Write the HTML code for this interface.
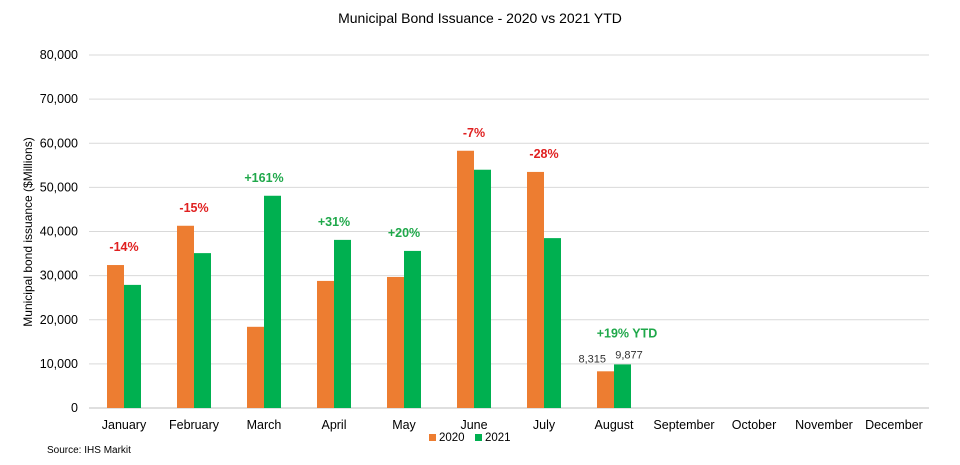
<!DOCTYPE html>
<html><head><meta charset="utf-8"><style>
body{margin:0;background:#fff;font-family:"Liberation Sans",Arial,sans-serif;}
svg text{font-family:"Liberation Sans",Arial,sans-serif;}
</style></head><body>
<svg id="chart" width="960" height="460" viewBox="0 0 960 460" xmlns="http://www.w3.org/2000/svg">
<rect width="960" height="460" fill="#fff"/>
<text x="480" y="23" text-anchor="middle" font-size="14" fill="#000">Municipal Bond Issuance - 2020 vs 2021 YTD</text>
<text transform="translate(32,232) rotate(-90)" text-anchor="middle" font-size="12" fill="#000">Municipal bond issuance ($Millions)</text>
<text x="47" y="453" font-size="10" fill="#000">Source: IHS Markit</text>
<g>
<rect x="429" y="434" width="7" height="7" fill="#ed7d31"/>
<text x="439" y="441" font-size="11.5" fill="#000">2020</text>
<rect x="475" y="434" width="7" height="7" fill="#00b050"/>
<text x="485" y="441" font-size="11.5" fill="#000">2021</text>
</g>
<g id="grid"></g><g id="bars"></g><g id="labels"></g>
</svg>
<script>
const categories=["January","February","March","April","May","June","July","August","September","October","November","December"];
const s2020=[32400,41300,18400,28800,29700,58300,53500,8315,null,null,null,null];
const s2021=[27900,35100,48100,38100,35600,54000,38500,9877,null,null,null,null];
const pctLabels=["-14%","-15%","+161%","+31%","+20%","-7%","-28%","+19% YTD"];
const yTicks=[0,10000,20000,30000,40000,50000,60000,70000,80000];
const NS="http://www.w3.org/2000/svg";
const x0=89,bw=70,yBase=408,yTop=55,yMax=80000;
const y=v=>yBase-(v/yMax)*(yBase-yTop);
const xc=i=>x0+bw*(i+0.5);
function mk(tag,attrs,parent,txt){const e=document.createElementNS(NS,tag);for(const k in attrs)e.setAttribute(k,attrs[k]);if(txt!=null)e.textContent=txt;document.getElementById(parent).appendChild(e);return e;}
yTicks.forEach(t=>{
 const l=mk('line',{x1:x0,x2:x0+bw*12,y1:y(t),y2:y(t),stroke:t===0?'#bfbfbf':'#d9d9d9','stroke-width':1},'grid');
 
 
 const tx=mk('text',{x:78,y:y(t)+4,'text-anchor':'end','font-size':12.5,fill:'#000'},'grid',t.toLocaleString('en-US'));
 
 
});
categories.forEach((c,i)=>{
 const tx=mk('text',{x:xc(i),y:429,'text-anchor':'middle','font-size':12.5,fill:'#000'},'labels',c);
 
 
 const bwid=17;
 if(s2020[i]!=null){
  const r=mk('rect',{x:xc(i)-bwid,y:y(s2020[i]),width:bwid,height:yBase-y(s2020[i]),fill:'#ed7d31'},'bars');
  
  
 }
 if(s2021[i]!=null){
  const r=mk('rect',{x:xc(i),y:y(s2021[i]),width:bwid,height:yBase-y(s2021[i]),fill:'#00b050'},'bars');
  
  
 }
 if(pctLabels[i]){
  const top=Math.min(y(s2020[i]),y(s2021[i]));
  const pos=pctLabels[i].startsWith('+');
  const ly=i===7?top-27:top-14;
  const tx=mk('text',{x:xc(i)+(i===7?13:0),y:ly,'text-anchor':'middle','font-size':12.5,'font-weight':'bold',fill:pos?'#1fa84a':'#e02020'},'labels',pctLabels[i]);
  
  
 }
});
const a=mk('text',{x:xc(7)-8,y:y(s2020[7])-9,'text-anchor':'end','font-size':11,fill:'#333'},'labels',s2020[7].toLocaleString('en-US'));


const b=mk('text',{x:xc(7)+15,y:y(s2021[7])-6,'text-anchor':'middle','font-size':11,fill:'#333'},'labels',s2021[7].toLocaleString('en-US'));


</script>
</body></html>
